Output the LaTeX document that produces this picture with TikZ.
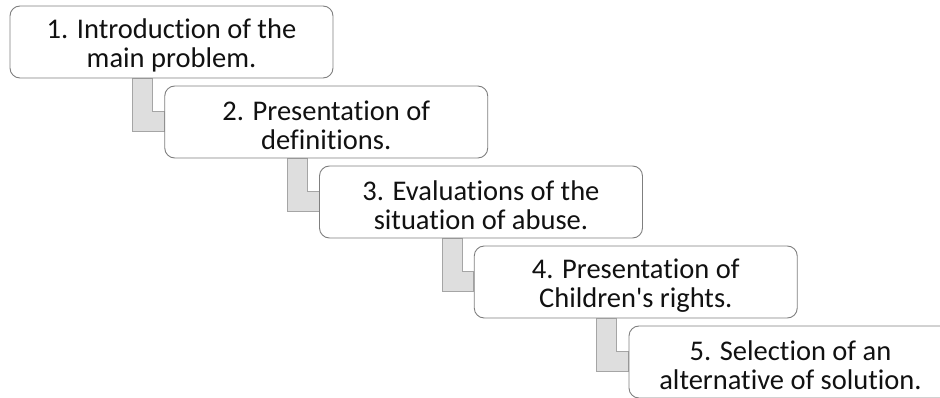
\documentclass[tikz,border=0pt]{standalone}
\usepackage{fontspec}
\setmainfont{Carlito}[Ligatures={NoCommon}]
\usetikzlibrary{calc,backgrounds}
\definecolor{boxline}{HTML}{7F7F7F}
\definecolor{barfill}{HTML}{DEDEDE}
\definecolor{barline}{HTML}{A5A5A5}
\definecolor{txt}{HTML}{111111}
% taller first line pushes the two-line label a little lower in its box
\newcommand\topstrut{\rule{0pt}{27pt}}
\tikzset{
  stepbox/.style={draw=boxline, line width=0.9pt, fill=white, rounded corners=10pt,
    minimum width=323pt, minimum height=72pt, inner sep=0pt, align=center,
    text=txt, font=\fontsize{28.5pt}{29pt}\selectfont},
  elbow/.style={fill=barfill, draw=barline, line width=0.8pt}
}
\begin{document}
\begin{tikzpicture}[x=1pt,y=-1pt]
  \useasboundingbox (0,0) rectangle (940,398);
  \node[stepbox] (b1) at (171.5,42)  {\topstrut 1. Introduction of the\\main problem.};
  \node[stepbox] (b2) at (326.25,122) {\topstrut 2. Presentation of\\definitions.};
  \node[stepbox] (b3) at (481,202)   {\topstrut 3. Evaluations of the\\situation of abuse.};
  \node[stepbox] (b4) at (635.75,282) {\topstrut 4. Presentation of\\Children\textquotesingle s rights.};
  \node[stepbox] (b5) at (790.5,362) {\topstrut 5. Selection of an\\alternative of solution.};
  \begin{scope}[on background layer]
    \foreach \a/\b in {b1/b2, b2/b3, b3/b4, b4/b5}{
      \path ($(\a.south west)+(123,0)$) coordinate (o1)
            ($(\a.south west)+(143,0)$) coordinate (i1)
            ($(\b.north west)+(0,46)$) coordinate (o2)
            ($(\b.north west)+(0,26)$) coordinate (i2);
      \draw[elbow] (o1) -- (o1 |- o2) -- (o2) -- (i2) -- (i1 |- i2) -- (i1) -- cycle;
    }
  \end{scope}
\end{tikzpicture}
\end{document}
